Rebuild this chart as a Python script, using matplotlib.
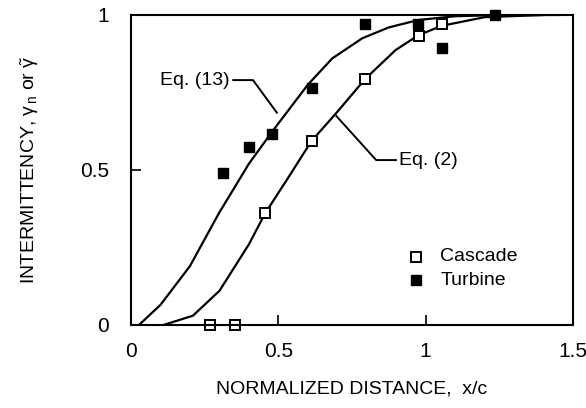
import matplotlib.pyplot as plt
import numpy as np

plt.rcParams['font.family'] = ['Liberation Sans', 'DejaVu Sans']
plt.rcParams['mathtext.fontset'] = 'custom'
plt.rcParams['mathtext.rm'] = 'Liberation Sans'
plt.rcParams['mathtext.it'] = 'Liberation Sans'

# measured points
cascade_x = [0.267, 0.352, 0.455, 0.613, 0.795, 0.976, 1.054]
cascade_y = [0.0, 0.0, 0.36, 0.594, 0.794, 0.933, 0.97]

turbine_x = [0.313, 0.40, 0.48, 0.613, 0.795, 0.973, 1.054, 1.235]
turbine_y = [0.49, 0.574, 0.616, 0.764, 0.97, 0.97, 0.893, 1.0]

# Eq. (13) curve
eq13_x = [0.027, 0.10, 0.20, 0.298, 0.40, 0.48, 0.60, 0.683, 0.785, 0.875, 0.976, 1.10, 1.25, 1.45]
eq13_y = [0.0, 0.065, 0.19, 0.36, 0.52, 0.625, 0.775, 0.86, 0.925, 0.96, 0.984, 0.996, 1.0, 1.0]

# Eq. (2) curve
eq2_x = [0.11, 0.21, 0.30, 0.40, 0.455, 0.53, 0.613, 0.696, 0.795, 0.898, 0.976, 1.054, 1.20, 1.40]
eq2_y = [0.0, 0.03, 0.11, 0.26, 0.36, 0.47, 0.594, 0.683, 0.794, 0.887, 0.935, 0.965, 0.993, 1.0]

fig = plt.figure(figsize=(5.86, 4.08), dpi=100)
ax = fig.add_axes([131/586, 1 - 325/408, 442/586, 310/408])

ax.plot(eq13_x, eq13_y, color='black', lw=1.6)
ax.plot(eq2_x, eq2_y, color='black', lw=1.6)

ax.plot(cascade_x, cascade_y, 's', mfc='white', mec='black', mew=1.4, ms=6.5, clip_on=False)
ax.plot(turbine_x, turbine_y, 's', color='black', ms=7.5, clip_on=False)

# leader lines and labels
ax.plot([0.495, 0.414, 0.347], [0.685, 0.79, 0.79], color='black', lw=1.4)
ax.text(0.335, 0.79, 'Eq. (13)', ha='right', va='center', fontsize=14)
ax.plot([0.697, 0.832, 0.899], [0.674, 0.532, 0.532], color='black', lw=1.4)
ax.text(0.91, 0.532, 'Eq. (2)', ha='left', va='center', fontsize=14)

# legend by hand
ax.plot([0.966], [0.22], 's', mfc='white', mec='black', mew=1.4, ms=6.5)
ax.plot([0.966], [0.145], 's', color='black', ms=7.5)
ax.text(1.05, 0.22, 'Cascade', ha='left', va='center', fontsize=14)
ax.text(1.05, 0.145, 'Turbine', ha='left', va='center', fontsize=14)

ax.set_xlim(0, 1.5)
ax.set_ylim(0, 1)
ax.set_xticks([0, 0.5, 1, 1.5])
ax.set_xticklabels(['0', '0.5', '1', '1.5'])
ax.set_yticks([0, 0.5, 1])
ax.set_yticklabels(['0', '0.5', '1'])
ax.tick_params(direction='in', length=7, width=1.2, labelsize=15, pad=16)
ax.tick_params(axis='x', pad=12)
for s in ax.spines.values():
    s.set_linewidth(1.5)

ax.set_xlabel('NORMALIZED DISTANCE,  x/c', fontsize=14, labelpad=14)
ax.set_ylabel(r'INTERMITTENCY, $\gamma_{\,n}$ or $\tilde{\gamma}$', fontsize=14, labelpad=28)

plt.savefig('out.png', dpi=100)
